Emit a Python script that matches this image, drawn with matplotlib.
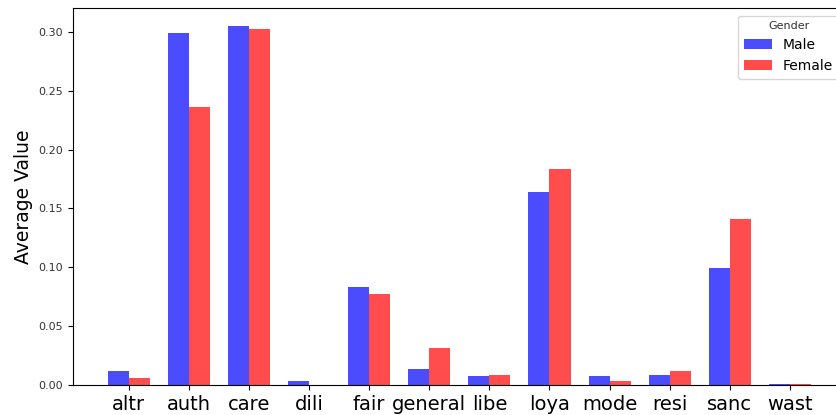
import numpy as np
import matplotlib
matplotlib.use("Agg")
import matplotlib.pyplot as plt

categories = ["altr", "auth", "care", "dili", "fair", "general", "libe",
              "loya", "mode", "resi", "sanc", "wast"]
male = [0.0119, 0.299, 0.305, 0.003, 0.083, 0.0136, 0.0077,
        0.164, 0.0077, 0.0085, 0.0990, 0.0010]
female = [0.0060, 0.236, 0.3022, 0.0, 0.0775, 0.0312, 0.0085,
          0.1836, 0.0037, 0.0119, 0.1412, 0.0008]

width = 0.35
x = np.arange(len(categories))

fig = plt.figure(figsize=(8.37, 4.15), dpi=100)
ax = fig.add_axes([72.7 / 837, 1 - 385 / 415, (846 - 72.7) / 837, (385 - 8) / 415])

ax.bar(x - width / 2, male, width, color="blue", alpha=0.7, label="Male")
ax.bar(x + width / 2, female, width, color="red", alpha=0.7, label="Female")

ax.set_xticks(x)
ax.set_xticklabels(categories, fontsize=14)
ax.tick_params(axis="y", labelsize=8, labelcolor="#333333")
ax.set_ylabel("Average Value", fontsize=13.5)

leg = ax.legend(title="Gender", fontsize=10, loc="upper right",
                bbox_to_anchor=(0.9995, 0.998))
leg.get_title().set_fontsize(8)
leg.get_title().set_color("#333333")

fig.savefig("out.png", dpi=100)
